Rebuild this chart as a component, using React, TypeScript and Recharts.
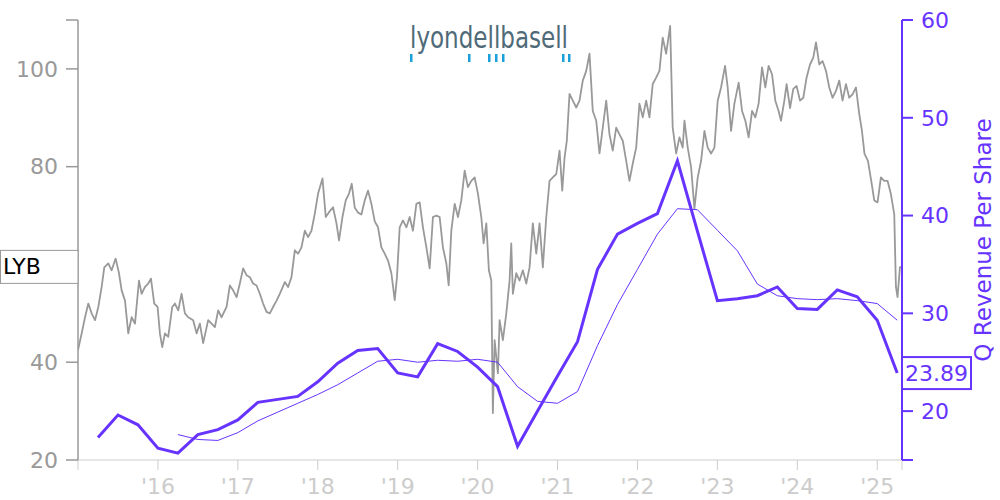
import React from 'react';
import { LineChart, Line, XAxis, YAxis, ReferenceDot } from 'recharts';

// Daily-ish share price (decimal year, USD)
const priceDates = [
  2015.000, 2015.046, 2015.088, 2015.129, 2015.171, 2015.213, 2015.254, 2015.296, 2015.329, 2015.379,
  2015.421, 2015.471, 2015.513, 2015.546, 2015.588, 2015.629, 2015.671, 2015.713, 2015.763, 2015.796,
  2015.838, 2015.879, 2015.913, 2015.954, 2015.996, 2016.025, 2016.054, 2016.088, 2016.129, 2016.179,
  2016.213, 2016.254, 2016.296, 2016.338, 2016.379, 2016.441, 2016.484, 2016.525, 2016.566, 2016.629,
  2016.671, 2016.713, 2016.754, 2016.796, 2016.859, 2016.900, 2016.941, 2016.984, 2017.025, 2017.066,
  2017.109, 2017.150, 2017.191, 2017.234, 2017.275, 2017.316, 2017.359, 2017.400, 2017.441, 2017.484,
  2017.525, 2017.588, 2017.629, 2017.671, 2017.713, 2017.754, 2017.796, 2017.838, 2017.879, 2017.921,
  2017.963, 2018.004, 2018.059, 2018.100, 2018.141, 2018.191, 2018.234, 2018.266, 2018.309, 2018.350,
  2018.391, 2018.425, 2018.463, 2018.504, 2018.546, 2018.588, 2018.629, 2018.671, 2018.713, 2018.754,
  2018.796, 2018.838, 2018.879, 2018.921, 2018.963, 2018.991, 2019.025, 2019.066, 2019.109, 2019.150,
  2019.191, 2019.234, 2019.275, 2019.316, 2019.359, 2019.400, 2019.441, 2019.484, 2019.525, 2019.566,
  2019.609, 2019.638, 2019.671, 2019.713, 2019.754, 2019.796, 2019.838, 2019.879, 2019.921, 2019.963,
  2020.004, 2020.046, 2020.075, 2020.109, 2020.141, 2020.171, 2020.191, 2020.213, 2020.254, 2020.275,
  2020.316, 2020.359, 2020.400, 2020.421, 2020.441, 2020.484, 2020.525, 2020.566, 2020.609, 2020.650,
  2020.691, 2020.734, 2020.775, 2020.816, 2020.859, 2020.900, 2020.941, 2020.984, 2021.025, 2021.059,
  2021.088, 2021.116, 2021.150, 2021.191, 2021.234, 2021.275, 2021.316, 2021.359, 2021.400, 2021.441,
  2021.484, 2021.525, 2021.566, 2021.609, 2021.650, 2021.691, 2021.734, 2021.775, 2021.816, 2021.859,
  2021.900, 2021.941, 2021.984, 2022.025, 2022.066, 2022.109, 2022.150, 2022.191, 2022.234, 2022.275,
  2022.316, 2022.359, 2022.409, 2022.441, 2022.484, 2022.525, 2022.566, 2022.588, 2022.629, 2022.671,
  2022.713, 2022.754, 2022.796, 2022.838, 2022.879, 2022.921, 2022.963, 2023.004, 2023.046, 2023.096,
  2023.129, 2023.171, 2023.213, 2023.266, 2023.309, 2023.350, 2023.391, 2023.434, 2023.475, 2023.516,
  2023.559, 2023.600, 2023.641, 2023.684, 2023.725, 2023.766, 2023.796, 2023.838, 2023.866, 2023.909,
  2023.950, 2023.991, 2024.034, 2024.075, 2024.116, 2024.159, 2024.200, 2024.234, 2024.275, 2024.316,
  2024.359, 2024.400, 2024.441, 2024.484, 2024.525, 2024.566, 2024.609, 2024.650, 2024.691, 2024.734,
  2024.775, 2024.809, 2024.841, 2024.884, 2024.925, 2024.963, 2025.004, 2025.046, 2025.088, 2025.129,
  2025.171, 2025.213, 2025.234, 2025.254, 2025.284, 2025.300,
];
const priceValues = [
  42.5, 45.9, 49.2, 52.0, 50.0, 48.6, 51.3, 55.4, 59.4, 60.2,
  58.8, 61.2, 58.2, 54.7, 52.6, 45.9, 49.2, 47.9, 56.7, 54.0,
  55.4, 56.1, 57.1, 52.0, 51.3, 45.9, 43.1, 45.9, 45.2, 51.3,
  52.0, 50.6, 54.0, 50.0, 49.2, 48.6, 45.9, 47.9, 43.9, 48.6,
  47.9, 47.2, 50.6, 49.2, 51.3, 55.7, 54.7, 53.3, 56.1, 59.2,
  57.8, 57.4, 56.1, 55.7, 54.0, 52.0, 50.3, 50.0, 51.3, 52.6,
  54.0, 56.4, 55.4, 57.4, 62.9, 62.2, 63.5, 66.9, 65.6, 66.9,
  70.4, 74.5, 77.6, 69.7, 70.7, 71.7, 68.4, 64.9, 69.7, 73.1,
  74.5, 76.5, 71.6, 70.6, 70.2, 73.1, 75.1, 72.4, 68.8, 67.6,
  63.5, 62.2, 60.8, 58.2, 52.7, 57.4, 67.6, 69.0, 67.6, 69.7,
  66.9, 72.4, 72.7, 67.6, 63.5, 59.2, 69.7, 70.0, 69.7, 63.5,
  60.2, 55.7, 66.9, 72.4, 69.7, 73.1, 79.2, 75.8, 77.1, 77.8,
  74.5, 69.7, 64.3, 68.4, 58.8, 56.7, 29.6, 44.5, 37.7, 48.6,
  44.5, 50.0, 56.7, 64.3, 54.0, 58.2, 56.7, 58.8, 56.1, 59.4,
  68.4, 62.2, 68.4, 59.4, 69.7, 77.1, 77.8, 78.5, 83.3, 75.1,
  81.9, 85.3, 94.9, 93.5, 92.1, 93.5, 97.6, 99.6, 103.1, 91.4,
  89.4, 82.7, 88.0, 93.5, 86.6, 83.3, 88.0, 86.6, 85.3, 81.2,
  77.1, 80.6, 83.9, 92.9, 90.1, 93.5, 90.1, 96.9, 98.2, 99.6,
  106.4, 103.1, 108.8, 88.0, 82.7, 86.0, 83.9, 89.4, 83.9, 79.9,
  71.4, 77.8, 81.2, 87.3, 83.9, 82.7, 83.9, 93.5, 96.2, 100.6,
  96.2, 87.3, 92.9, 97.2, 91.4, 89.4, 86.0, 91.4, 90.1, 92.9,
  100.3, 96.2, 100.6, 98.9, 93.5, 91.4, 89.4, 93.5, 96.9, 92.0,
  95.9, 96.5, 93.5, 94.1, 98.2, 100.9, 102.3, 105.4, 100.9, 101.6,
  99.6, 96.2, 94.1, 95.5, 97.6, 93.5, 96.9, 94.1, 94.8, 96.2,
  90.8, 87.3, 82.6, 81.2, 77.1, 73.1, 72.7, 77.8, 77.1, 77.1,
  74.4, 70.3, 55.4, 53.3, 59.4, 59.5,
];

// Quarterly revenue per share (quarter ends, decimal year)
const quarterDates = [
  2015.25, 2015.5, 2015.75, 2016.0, 2016.25, 2016.5, 2016.75, 2017.0, 2017.25, 2017.5,
  2017.75, 2018.0, 2018.25, 2018.5, 2018.75, 2019.0, 2019.25, 2019.5, 2019.75, 2020.0,
  2020.25, 2020.5, 2020.75, 2021.0, 2021.25, 2021.5, 2021.75, 2022.0, 2022.25, 2022.5,
  2022.75, 2023.0, 2023.25, 2023.5, 2023.75, 2024.0, 2024.25, 2024.5, 2024.75, 2025.0,
  2025.25,
];
const revenuePerShare = [
  17.3, 19.6, 18.6, 16.2, 15.7, 17.6, 18.1, 19.1, 20.9, 21.2,
  21.5, 23.0, 24.9, 26.2, 26.4, 23.9, 23.5, 26.9, 26.1, 24.5,
  22.5, 16.4, 20.0, 23.6, 27.1, 34.5, 38.1, 39.2, 40.2, 45.6,
  38.4, 31.3, 31.5, 31.8, 32.7, 30.5, 30.4, 32.4, 31.7, 29.3,
  23.89,
];
// Trailing four-quarter average (starts at 2016.25)
const revenueAvgDates = quarterDates.slice(4);
const revenueAvg = [
  17.6, 17.1, 17.0, 17.8, 19.0, 19.9, 20.8, 21.7, 22.7, 23.9,
  25.1, 25.3, 25.0, 25.2, 25.1, 25.3, 25.0, 22.5, 21.0, 20.8,
  22.0, 26.7, 30.9, 34.5, 38.1, 40.7, 40.6, 38.5, 36.4, 33.0,
  31.8, 31.5, 31.4, 31.5, 31.3, 31.0, 29.3,
];

const xTicks = [2015, 2016, 2017, 2018, 2019, 2020, 2021, 2022, 2023, 2024, 2025, 2025.31];
const leftTicks = [20, 40, 80, 100, 110];
const rightTicks = [15, 20, 30, 40, 50, 60];
const ticker = 'LYB';
const rightTitle = 'Q Revenue Per Share';
const logoText = 'lyondellbasell';

const priceData = priceDates.map((t, i) => ({ t, p: priceValues[i] }));
const revData = quarterDates.map((t, i) => ({ t, r: revenuePerShare[i] }));
const avgData = revenueAvgDates.map((t, i) => ({ t, a: revenueAvg[i] }));

const lastPrice = priceData[priceData.length - 1];
const lastRev = revData[revData.length - 1];

const PURPLE = '#6633ff';
const GRAY = '#999999';
const LIGHT = '#cccccc';
const FONT = 'DejaVu Sans, sans-serif';

const fmtYear = (v: number) =>
  Number.isInteger(v) && v >= 2016 && v <= 2025 ? "'" + String(v).slice(2) : '';

const LeftBox = (props: any) => {
  const cy = props.cy;
  return (
    <g>
      <rect x={0.5} y={cy - 16.5} width={77.5} height={33} fill="#fff" stroke={GRAY} strokeWidth={1} />
      <text x={3} y={cy} dominantBaseline="central" fontSize={22} fontFamily={FONT} fill="#000">
        {ticker}
      </text>
    </g>
  );
};

const RightBox = (props: any) => {
  const cy = props.cy;
  return (
    <g>
      <rect x={902} y={cy - 16} width={69} height={32} fill="#fff" stroke={PURPLE} strokeWidth={2} />
      <text x={905} y={cy} dominantBaseline="central" fontSize={22} fontFamily={FONT} fill={PURPLE}>
        {lastRev.r.toFixed(2)}
      </text>
    </g>
  );
};

const RightTitle = (props: any) => {
  const vb = props.viewBox || { x: 902, y: 20, width: 98, height: 440 };
  const cx = vb.x + 81;
  const cy = vb.y + vb.height / 2;
  return (
    <text
      x={cx}
      y={cy}
      transform={`rotate(-90 ${cx} ${cy})`}
      textAnchor="middle"
      dominantBaseline="central"
      fontSize={23}
      fontFamily={FONT}
      fill={PURPLE}
    >
      {rightTitle}
    </text>
  );
};

const logoMarks = [411, 469, 489, 496, 503, 563, 569];

export default function App() {
  return (
    <div style={{ position: 'absolute', left: 0, top: 0, width: 1000, height: 500, background: '#fff' }}>
      <LineChart
        width={1000}
        height={500}
        margin={{ top: 20, right: 0, bottom: 0, left: 0 }}
        style={{ fontFamily: FONT }}
      >
        <XAxis
          type="number"
          dataKey="t"
          domain={[2015, 2025.31]}
          allowDataOverflow
          ticks={xTicks}
          interval={0}
          tickFormatter={fmtYear}
          height={40}
          stroke={LIGHT}
          tickSize={10}
          tickMargin={8}
          tick={{ fill: LIGHT, fontSize: 22, fontFamily: FONT }}
        />
        <YAxis
          yAxisId="left"
          orientation="left"
          domain={[20, 110]}
          allowDataOverflow
          ticks={leftTicks}
          interval={0}
          tickFormatter={(v: number) => (v === 110 ? '' : String(v))}
          width={78}
          stroke={GRAY}
          strokeWidth={1.5}
          tickSize={12}
          tickMargin={8}
          tick={{ fill: GRAY, fontSize: 22, fontFamily: FONT }}
        />
        <YAxis
          yAxisId="right"
          orientation="right"
          domain={[15, 60]}
          allowDataOverflow
          ticks={rightTicks}
          interval={0}
          tickFormatter={(v: number) => (v === 15 ? '' : String(v))}
          width={98}
          stroke={PURPLE}
          strokeWidth={2}
          tickSize={11}
          tickMargin={8}
          tick={{ fill: PURPLE, fontSize: 22, fontFamily: FONT }}
          label={(p: any) => <RightTitle {...p} />}
        />
        <Line
          yAxisId="left"
          data={priceData}
          dataKey="p"
          type="linear"
          stroke={GRAY}
          strokeWidth={1.8}
          strokeLinejoin="round"
          dot={false}
          isAnimationActive={false}
        />
        <Line
          yAxisId="right"
          data={avgData}
          dataKey="a"
          type="linear"
          stroke={PURPLE}
          strokeWidth={1}
          dot={false}
          isAnimationActive={false}
        />
        <Line
          yAxisId="right"
          data={revData}
          dataKey="r"
          type="linear"
          stroke={PURPLE}
          strokeWidth={3}
          dot={false}
          isAnimationActive={false}
        />
        <ReferenceDot yAxisId="left" x={lastPrice.t} y={lastPrice.p} r={0} shape={(p: any) => <LeftBox {...p} />} />
        <ReferenceDot yAxisId="right" x={lastRev.t} y={lastRev.r} r={0} shape={(p: any) => <RightBox {...p} />} />
      </LineChart>
      <svg width={1000} height={80} style={{ position: 'absolute', left: 0, top: 0, pointerEvents: 'none' }}>
        <text
          x={410}
          y={48}
          fontSize={30}
          fontFamily="DejaVu Sans Condensed, DejaVu Sans, sans-serif"
          fill="#4f6a78"
          textLength={158}
          lengthAdjust="spacingAndGlyphs"
        >
          {logoText}
        </text>
        {logoMarks.map((x) => (
          <rect key={x} x={x - 1} y={54} width={2.5} height={8} fill="#1ba0dc" />
        ))}
      </svg>
    </div>
  );
}
